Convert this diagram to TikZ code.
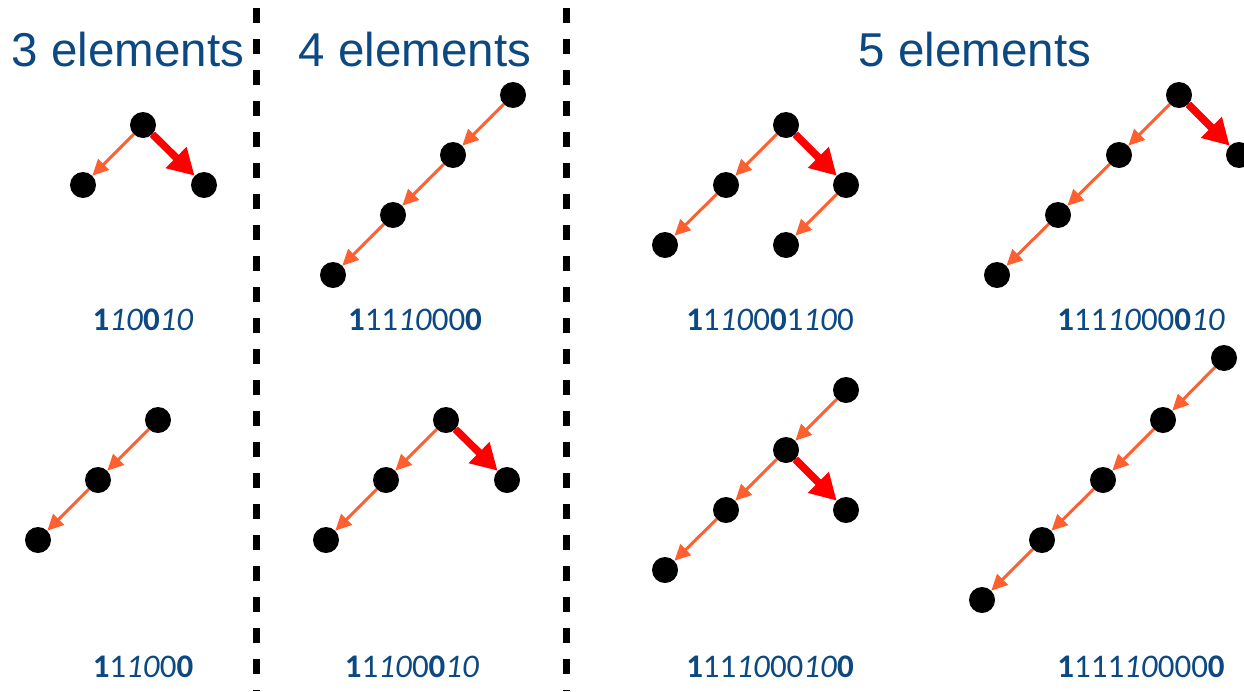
\documentclass[tikz,border=0pt]{standalone}
\usepackage{fontspec}
\setmainfont{Liberation Sans}
\newfontfamily\labfont{Carlito}
\usetikzlibrary{arrows.meta}
\definecolor{ttl}{RGB}{12,73,130}
\definecolor{orng}{RGB}{255,96,48}
\definecolor{rd}{RGB}{255,0,0}
\begin{document}
\begin{tikzpicture}[x=1pt,y=-1pt,
  nd/.style={circle,fill=black,minimum size=26pt,inner sep=0pt},
  lft/.style={draw=orng,line width=3pt,-{Triangle[length=16pt,width=15pt]}},
  rgt/.style={draw=rd,line width=7.5pt,-{Triangle[length=26pt,width=28pt]}},
  ttlstyle/.style={text=ttl,font=\fontsize{47.5}{52}\selectfont,inner sep=0pt},
  lab/.style={text=ttl,font=\labfont\fontsize{33}{36}\selectfont,inner sep=0pt},
  sep/.style={line width=7pt,dash pattern=on 15pt off 16pt}]
\useasboundingbox (0,0) rectangle (1244,691);
\fill[white] (0,0) rectangle (1244,691);
% separators
\coordinate (s1a) at (256.5,8); \coordinate (s1b) at (256.5,691);
\coordinate (s2a) at (566,8); \coordinate (s2b) at (566,691);
\draw[sep] (s1a) -- (s1b);
\draw[sep] (s2a) -- (s2b);
% titles
\node[ttlstyle] (t3) at (128,50) {3 elements};
\node[ttlstyle] (t4) at (415,50) {4 elements};
\node[ttlstyle] (t5) at (975,50) {5 elements};
% panel 1 top
\node[nd] (a1) at (143,125) {};
\node[nd] (a2) at (83,185) {};
\node[nd] (a3) at (204,185) {};
\draw[lft] (a1) -- (a2);
\draw[rgt] (a1) -- (a3);
\node[lab] (la) at (143,320) {\textbf{1}\textit{10}\textbf{0}\textit{10}};
% panel 1 bottom
\node[nd] (b1) at (158,420) {};
\node[nd] (b2) at (98,480) {};
\node[nd] (b3) at (38,540) {};
\draw[lft] (b1) -- (b2);
\draw[lft] (b2) -- (b3);
\node[lab] (lb) at (143,667) {\textbf{1}1\textit{10}0\textbf{0}};
% panel 2 top
\node[nd] (c1) at (513,95) {};
\node[nd] (c2) at (453,155) {};
\node[nd] (c3) at (393,215) {};
\node[nd] (c4) at (333,275) {};
\draw[lft] (c1) -- (c2);
\draw[lft] (c2) -- (c3);
\draw[lft] (c3) -- (c4);
\node[lab] (lc) at (415,320) {\textbf{1}11\textit{10}00\textbf{0}};
% panel 2 bottom
\node[nd] (d1) at (446,420) {};
\node[nd] (d2) at (386,480) {};
\node[nd] (d3) at (326,540) {};
\node[nd] (d4) at (507,480) {};
\draw[lft] (d1) -- (d2);
\draw[lft] (d2) -- (d3);
\draw[rgt] (d1) -- (d4);
\node[lab] (ld) at (412,667) {\textbf{1}1\textit{10}0\textbf{0}\textit{10}};
% panel 3 top
\node[nd] (e1) at (786,125) {};
\node[nd] (e2) at (726,185) {};
\node[nd] (e3) at (665,245) {};
\node[nd] (e4) at (846,185) {};
\node[nd] (e5) at (786,245) {};
\draw[lft] (e1) -- (e2);
\draw[lft] (e2) -- (e3);
\draw[rgt] (e1) -- (e4);
\draw[lft] (e4) -- (e5);
\node[lab] (le) at (770,320) {\textbf{1}1\textit{10}0\textbf{0}1\textit{10}0};
% panel 4 top
\node[nd] (f1) at (1179,95) {};
\node[nd] (f2) at (1119,155) {};
\node[nd] (f3) at (1058,215) {};
\node[nd] (f4) at (997,275) {};
\node[nd] (f5) at (1239,155) {};
\draw[lft] (f1) -- (f2);
\draw[lft] (f2) -- (f3);
\draw[lft] (f3) -- (f4);
\draw[rgt] (f1) -- (f5);
\node[lab] (lf) at (1141,320) {\textbf{1}11\textit{10}00\textbf{0}\textit{10}};
% panel 3 bottom
\node[nd] (g1) at (846,390) {};
\node[nd] (g2) at (786,450) {};
\node[nd] (g3) at (846,510) {};
\node[nd] (g4) at (726,510) {};
\node[nd] (g5) at (665,570) {};
\draw[lft] (g1) -- (g2);
\draw[rgt] (g2) -- (g3);
\draw[lft] (g2) -- (g4);
\draw[lft] (g4) -- (g5);
\node[lab] (lg) at (770,667) {\textbf{1}11\textit{10}00\textit{10}\textbf{0}};
% panel 4 bottom
\node[nd] (h1) at (1224,358) {};
\node[nd] (h2) at (1163,420) {};
\node[nd] (h3) at (1103,480) {};
\node[nd] (h4) at (1042,540) {};
\node[nd] (h5) at (982,600) {};
\draw[lft] (h1) -- (h2);
\draw[lft] (h2) -- (h3);
\draw[lft] (h3) -- (h4);
\draw[lft] (h4) -- (h5);
\node[lab] (lh) at (1141,667) {\textbf{1}111\textit{10}000\textbf{0}};
\end{tikzpicture}
\end{document}
